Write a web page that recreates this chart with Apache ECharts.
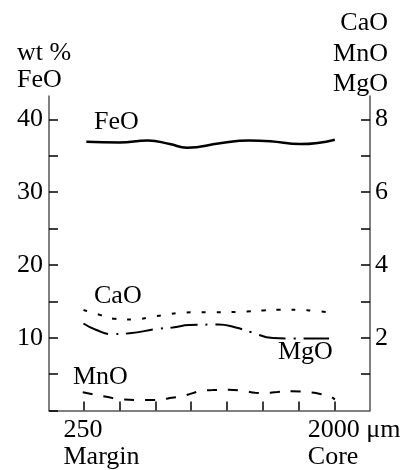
<!DOCTYPE html>
<html><head><meta charset="utf-8">
<script src="https://cdn.jsdelivr.net/npm/echarts@6/dist/echarts.min.js"></script>
<style>html,body{margin:0;padding:0;background:#fff}#c{width:406px;height:470px}</style>
</head><body><div id="c"></div>
<script>
// distance from margin (µm) -> values
const xTicks = [250, 500, 750, 1000, 1250, 1500, 1750, 2000];
const xLabelValues = [250, 2000];
const leftTicks = [0, 5, 10, 15, 20, 25, 30, 35, 40];
const leftLabels = [10, 20, 30, 40];
const rightTicks = [1, 2, 3, 4, 5, 6, 7, 8];
const rightLabels = [2, 4, 6, 8];

// FeO (left axis, wt %)
const feo = [[270,36.9],[500,36.8],[700,37.1],[850,36.6],[970,36.1],[1200,36.7],[1400,37.1],[1550,37.0],[1760,36.6],[2000,37.2]];
// CaO, MnO, MgO (right axis)
const cao = [[250,2.76],[370,2.62],[470,2.52],[600,2.50],[710,2.56],[820,2.63],[940,2.69],[1040,2.70],[1150,2.70],[1390,2.72],[1500,2.75],[1620,2.77],[1740,2.77],[1850,2.74],[1960,2.70]];
const mgo = [[250,2.39],[340,2.21],[450,2.10],[570,2.12],[760,2.24],[870,2.28],[990,2.35],[1190,2.36],[1310,2.28],[1420,2.15],[1570,1.99],[1660,1.98],[1830,1.98],[1960,1.98]];
const mno = [[245,0.50],[350,0.42],[420,0.37],[500,0.31],[640,0.29],[714,0.29],[800,0.31],[865,0.35],[935,0.39],[1005,0.47],[1085,0.55],[1150,0.56],[1260,0.57],[1376,0.53],[1445,0.49],[1515,0.48],[1600,0.51],[1700,0.53],[1816,0.50],[1890,0.46],[1960,0.40],[2000,0.30]];

const FONT = '"Liberation Serif", "DejaVu Serif", serif';
const FS = 26;
const axisColor = '#555';
const txt = (text, x, y, align) => ({
  type: 'text', x: x, y: y,
  style: { text: text, font: FS + 'px ' + FONT, fill: '#000', textAlign: align || 'left', textVerticalAlign: 'middle' }
});

const chart = echarts.init(document.getElementById('c'));
chart.setOption({
  animation: false,
  grid: { left: 49, right: 36, top: 96, bottom: 57 },
  xAxis: {
    type: 'value', min: 10, max: 2245,
    splitLine: { show: false },
    axisLine: { lineStyle: { color: axisColor, width: 1.5 } },
    axisTick: { inside: true, length: 9, customValues: xTicks, lineStyle: { color: '#000', width: 1.5 } },
    axisLabel: {
      customValues: xLabelValues, margin: 6,
      formatter: v => v === 250 ? '{a|250}\n{a|Margin}' : (v === 2000 ? '{b|2000 μm}\n{b|Core}' : ''),
      rich: {
        a: { width: 40, align: 'left', fontFamily: FONT, fontSize: FS, color: '#000', lineHeight: 27 },
        b: { width: 54, align: 'left', fontFamily: FONT, fontSize: FS, color: '#000', lineHeight: 27 }
      }
    }
  },
  yAxis: [
    {
      type: 'value', min: 0, max: 43.2, position: 'left',
      splitLine: { show: false },
      axisLine: { show: true, lineStyle: { color: axisColor, width: 1.5 } },
      axisTick: { show: true, inside: true, length: 9, customValues: leftTicks, lineStyle: { color: '#000', width: 1.5 } },
      axisLabel: { customValues: leftLabels, margin: 6, fontFamily: FONT, fontSize: FS, color: '#000' }
    },
    {
      type: 'value', min: 0, max: 8.64, position: 'right',
      splitLine: { show: false },
      axisLine: { show: true, lineStyle: { color: axisColor, width: 1.5 } },
      axisTick: { show: true, inside: true, length: 9, customValues: rightTicks, lineStyle: { color: '#000', width: 1.5 } },
      axisLabel: { customValues: rightLabels, margin: 5, fontFamily: FONT, fontSize: FS, color: '#000' }
    }
  ],
  series: [
    { name: 'FeO', type: 'line', yAxisIndex: 0, data: feo, smooth: true, showSymbol: false,
      lineStyle: { color: '#000', width: 2.5, type: 'solid' } },
    { name: 'CaO', type: 'line', yAxisIndex: 1, data: cao, smooth: true, showSymbol: false,
      lineStyle: { color: '#000', width: 2, type: [4, 11] } },
    { name: 'MgO', type: 'line', yAxisIndex: 1, data: mgo, smooth: true, showSymbol: false,
      lineStyle: { color: '#000', width: 2, type: [27, 8, 2, 8] } },
    { name: 'MnO', type: 'line', yAxisIndex: 1, data: mno, smooth: true, showSymbol: false,
      lineStyle: { color: '#000', width: 2, type: [10, 11] } }
  ],
  graphic: [
    txt('wt %', 17, 52.8), txt('FeO', 17, 80.5),
    txt('CaO', 388, 23.3, 'right'), txt('MnO', 388, 54, 'right'), txt('MgO', 388, 83.7, 'right'),
    txt('FeO', 94, 122.5), txt('CaO', 94, 296), txt('MnO', 73, 377), txt('MgO', 278, 352)
  ]
});
</script></body></html>
